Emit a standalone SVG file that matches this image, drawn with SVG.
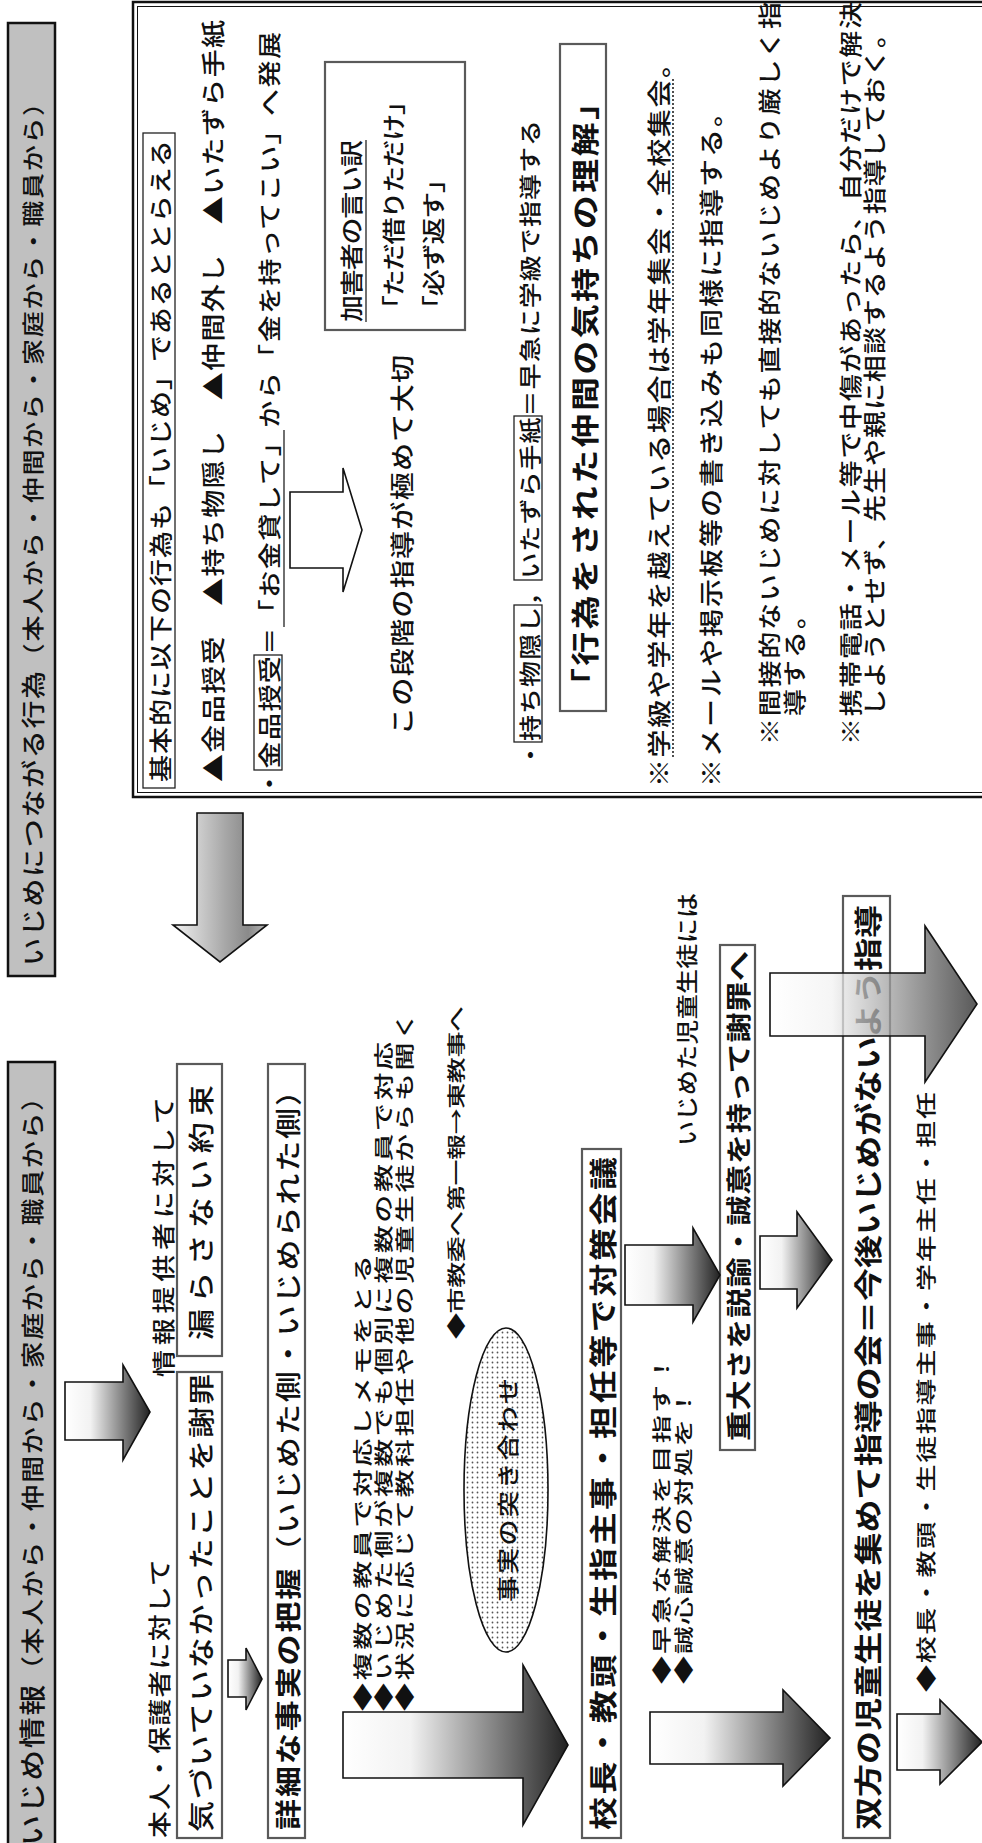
<svg xmlns="http://www.w3.org/2000/svg" width="982" height="1843" viewBox="0 0 982 1843">
<defs>
<style>
.t{font-family:"Noto Sans CJK JP","Noto Sans CJK SC",sans-serif;fill:#111;dominant-baseline:central;font-weight:500}
.b{font-weight:700}
.box{fill:#fff;stroke:#5a5a5a;stroke-width:2.2}
.thin{fill:none;stroke:#222;stroke-width:1.3}
.hdr{fill:#c0c0c0;stroke:#111;stroke-width:2.5}
.arr{stroke:#111;stroke-width:1.6;fill:url(#gr)}
.ln{stroke:#222;stroke-width:1.3;fill:none}
</style>
<linearGradient id="gr" x1="0" y1="0" x2="1" y2="0">
<stop offset="0" stop-color="#ffffff"/>
<stop offset="0.3" stop-color="#f2f2f2"/>
<stop offset="0.65" stop-color="#8a8a8a"/>
<stop offset="1" stop-color="#222"/>
</linearGradient>
<linearGradient id="gd" x1="0" y1="0" x2="1" y2="0">
<stop offset="0" stop-color="#f2f2f2"/>
<stop offset="0.55" stop-color="#a8a8a8"/>
<stop offset="0.8" stop-color="#8a8a8a"/>
<stop offset="1" stop-color="#b8b8b8"/>
</linearGradient>
<pattern id="dots" width="5" height="5" patternUnits="userSpaceOnUse">
<rect width="5" height="5" fill="#fff"/>
<circle cx="2.5" cy="2.5" r="0.9" fill="#555"/>
</pattern>
</defs>
<rect width="982" height="1843" fill="#fff"/>

<g id="header-top">
<rect class="hdr" x="8" y="23" width="47" height="953"/>
<text class="t" transform="translate(31,966) rotate(-90) scale(1,0.85)" font-size="28" textLength="876" lengthAdjust="spacing">いじめにつながる行為<tspan font-size="26">（本人から・仲間から・家庭から・職員から）</tspan></text>
</g>

<g id="header-bottom">
<rect class="hdr" x="8" y="1062" width="47" height="790"/>
<text class="t" transform="translate(31,1846) rotate(-90) scale(1,0.85)" font-size="31" textLength="762" lengthAdjust="spacing">いじめ情報<tspan font-size="27">（本人から・仲間から・家庭から・職員から）</tspan></text>
</g>

<g id="main-box">
<rect x="133" y="2" width="860" height="795" fill="#fff" stroke="#111" stroke-width="2.5"/>
<rect x="137.5" y="6.5" width="860" height="786" fill="none" stroke="#111" stroke-width="1"/>
<rect class="thin" x="143" y="133" width="32" height="655"/>
<text class="t" transform="translate(159,782) rotate(-90) scale(1,0.85)" font-size="27" textLength="642" lengthAdjust="spacing">基本的に以下の行為も「いじめ」であるととらえる</text>
<text class="t" transform="translate(211,782) rotate(-90) scale(1,0.85)" font-size="28" textLength="762" lengthAdjust="spacing">▲金品授受　▲持ち物隠し　▲仲間外し　▲いたずら手紙</text>
<rect class="thin" x="254" y="655" width="28" height="115"/>
<line class="ln" x1="284" y1="627" x2="284" y2="430"/>
<text class="t" transform="translate(268,797) rotate(-90) scale(1,0.85)" font-size="27" textLength="765" lengthAdjust="spacing">・金品授受＝「お金貸して」から「金を持ってこい」へ発展</text>
<text class="t" transform="translate(400,735) rotate(-90) scale(1,0.85)" font-size="28" textLength="380" lengthAdjust="spacing">この段階の指導が極めて大切</text>
<rect class="box" x="325" y="62" width="140" height="268" stroke-width="1.8"/>
<text class="t" transform="translate(350,322) rotate(-90) scale(1,0.85)" font-size="27" textLength="182" lengthAdjust="spacing">加害者の言い訳</text>
<line class="ln" x1="366" y1="322" x2="366" y2="140"/>
<text class="t" transform="translate(392,322) rotate(-90) scale(1,0.85)" font-size="27" textLength="234" lengthAdjust="spacing">「ただ借りただけ」</text>
<text class="t" transform="translate(432,322) rotate(-90) scale(1,0.85)" font-size="27" textLength="156" lengthAdjust="spacing">「必ず返す」</text>
<rect class="thin" x="514" y="605" width="28" height="137"/>
<rect class="thin" x="514" y="416" width="28" height="164"/>
<text class="t" transform="translate(528,768) rotate(-90) scale(1,0.85)" font-size="26" textLength="648" lengthAdjust="spacing">・持ち物隠し，いたずら手紙＝早急に学級で指導する</text>
<rect class="box" x="560" y="44" width="46" height="667"/>
<text class="t b" transform="translate(583,702) rotate(-90) scale(1,0.85)" font-size="34" textLength="616" lengthAdjust="spacing">「行為をされた仲間の気持ちの理解」</text>
<text class="t" transform="translate(657,787) rotate(-90) scale(1,0.85)" font-size="28" textLength="737" lengthAdjust="spacing">※学級や学年を越えている場合は学年集会・全校集会。</text>
<line x1="673" y1="757" x2="673" y2="79" stroke="#222" stroke-width="1.6" stroke-dasharray="2 2"/>
<text class="t" transform="translate(709,787) rotate(-90) scale(1,0.85)" font-size="28" textLength="688" lengthAdjust="spacing">※メールや掲示板等の書き込みも同様に指導する。</text>
<text class="t" transform="translate(768,745) rotate(-90) scale(1,0.85)" font-size="27" textLength="743" lengthAdjust="spacing">※間接的ないじめに対しても直接的ないじめより厳しく指</text>
<text class="t" transform="translate(793,716) rotate(-90) scale(1,0.85)" font-size="27" textLength="114" lengthAdjust="spacing">導する。</text>
<text class="t" transform="translate(849,745) rotate(-90) scale(1,0.85)" font-size="27" textLength="743" lengthAdjust="spacing">※携帯電話・メール等で中傷があったら、自分だけで解決</text>
<text class="t" transform="translate(873,716) rotate(-90) scale(1,0.85)" font-size="27" textLength="695" lengthAdjust="spacing">しようとせず、先生や親に相談するよう指導しておく。</text>
</g>

<g id="node-honnin">
<text class="t" transform="translate(158,1838) rotate(-90) scale(1,0.85)" font-size="27" textLength="279" lengthAdjust="spacing">本人・保護者に対して</text>
<rect class="box" x="177" y="1372" width="45" height="466"/>
<text class="t" transform="translate(199.5,1832) rotate(-90) scale(1,0.85)" font-size="31" textLength="458" lengthAdjust="spacing">気づいていなかったことを謝罪</text>
</g>

<g id="node-teikyosha">
<text class="t" transform="translate(162,1377) rotate(-90) scale(1,0.85)" font-size="27" textLength="280" lengthAdjust="spacing">情報提供者に対して</text>
<rect class="box" x="177" y="1064" width="45" height="292"/>
<text class="t" transform="translate(199.5,1340) rotate(-90) scale(1,0.85)" font-size="31" textLength="255" lengthAdjust="spacing">漏らさない約束</text>
</g>

<g id="node-shosai">
<rect class="box" x="268" y="1064" width="37" height="774"/>
<text class="t" transform="translate(286.5,1830) rotate(-90) scale(1,0.85)" font-size="31" textLength="755" lengthAdjust="spacing"><tspan class="b">詳細な事実の把握</tspan>（いじめた側・いじめられた側）</text>
</g>

<g id="node-diamonds">
<text class="t" transform="translate(361,1711) rotate(-90) scale(1,0.7)" font-size="28" textLength="456" lengthAdjust="spacing">◆複数の教員で対応しメモをとる</text>
<text class="t" transform="translate(382,1711) rotate(-90) scale(1,0.7)" font-size="28" textLength="669" lengthAdjust="spacing">◆いじめた側が複数でも個別に複数の教員で対応</text>
<text class="t" transform="translate(403,1711) rotate(-90) scale(1,0.7)" font-size="28" textLength="699" lengthAdjust="spacing">◆状況に応じて教科担任や他の児童生徒からも聞く</text>
<text class="t" transform="translate(455,1339) rotate(-90) scale(1,0.72)" font-size="26" textLength="333" lengthAdjust="spacing">◆市教委へ第一報→東教事へ</text>
</g>

<g id="node-tsukiawase">
<ellipse cx="506" cy="1490" rx="42" ry="162" fill="url(#dots)" stroke="#111" stroke-width="1.6"/>
<text class="t" transform="translate(506,1602) rotate(-90) scale(1,0.85)" font-size="26" textLength="224" lengthAdjust="spacing">事実の突き合わせ</text>
</g>

<g id="node-taisaku">
<rect class="box" x="582" y="1149" width="39" height="689"/>
<text class="t b" transform="translate(601.5,1830) rotate(-90) scale(1,0.85)" font-size="33" textLength="673" lengthAdjust="spacing">校長・教頭・生指主事・担任等で対策会議</text>
<text class="t" transform="translate(660,1684) rotate(-90) scale(1,0.7)" font-size="28" textLength="329" lengthAdjust="spacing">◆早急な解決を目指す！</text>
<text class="t" transform="translate(682,1684) rotate(-90) scale(1,0.7)" font-size="28" textLength="295" lengthAdjust="spacing">◆誠心誠意の対処を！</text>
</g>

<g id="node-shayu">
<text class="t" transform="translate(686,1146) rotate(-90) scale(1,0.85)" font-size="25" textLength="253" lengthAdjust="spacing">いじめた児童生徒には</text>
<rect class="box" x="720" y="945" width="35" height="505"/>
<text class="t b" transform="translate(737.5,1441) rotate(-90) scale(1,0.85)" font-size="30" textLength="490" lengthAdjust="spacing">重大さを説諭・誠意を持って謝罪へ</text>
</g>

<g id="node-soho">
<rect class="box" x="843" y="896" width="47" height="942"/>
<text class="t b" transform="translate(866.5,1830) rotate(-90) scale(1,0.85)" font-size="33" textLength="925" lengthAdjust="spacing">双方の児童生徒を集めて指導の会＝今後いじめがないよう指導</text>
<text class="t" transform="translate(925,1692) rotate(-90) scale(1,0.75)" font-size="27" textLength="600" lengthAdjust="spacing">◆校長・教頭・生徒指導主事・学年主任・担任</text>
</g>

<g id="connectors">
<path d="M197,813 H243 V925 H267 L220,962 L173,925 H197 Z" fill="url(#gd)" stroke="#111" stroke-width="1.6"/>
<path d="M290,492 H343 V468 L362,530 L343,592 V568 H290 Z" fill="#fff" stroke="#111" stroke-width="1.6"/>
<path class="arr" d="M65,1382 H123 V1365 L150,1412 L123,1460 V1440 H65 Z"/>
<path class="arr" d="M228,1660 H246 V1648 L262,1679 L246,1710 V1697 H228 Z"/>
<path class="arr" d="M343,1712 H523 V1665 L568,1745 L523,1825 V1778 H343 Z"/>
<path class="arr" d="M625,1245 H693 V1228 L720,1275 L693,1322 V1305 H625 Z"/>
<path class="arr" d="M760,1236 H797 V1212 L832,1260 L797,1308 V1289 H760 Z"/>
<path class="arr" d="M650,1712 H783 V1690 L830,1738 L783,1786 V1764 H650 Z"/>
<path class="arr" d="M770,973 H925 V926 L977,1004 L925,1082 V1036 H770 Z" fill-opacity="0.75"/>
<path class="arr" d="M897,1714 H940 V1700 L982,1742 L940,1784 V1770 H897 Z"/>
</g>
</svg>
